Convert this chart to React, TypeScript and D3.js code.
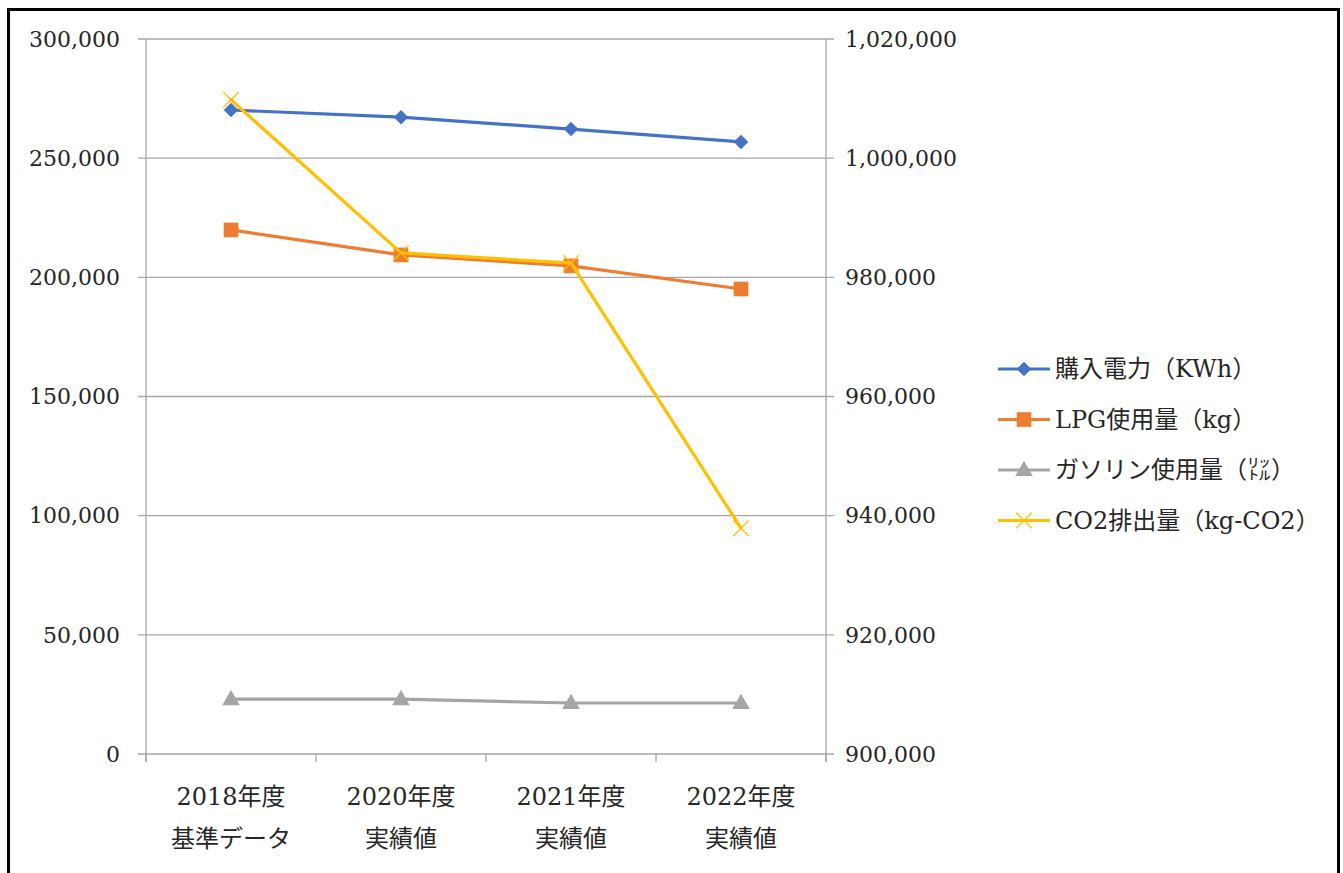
import React from 'react';
import * as d3 from 'd3';

const categories = ['2018年度|基準データ', '2020年度|実績値', '2021年度|実績値', '2022年度|実績値'];
const power = [270200, 267200, 262200, 256800];
const lpg = [219900, 209400, 204800, 195100];
const gasoline = [23000, 23000, 21400, 21400];
const co2 = [1009800, 984100, 982400, 937900];
const leftTicks = [0, 50000, 100000, 150000, 200000, 250000, 300000];
const rightTicks = [900000, 920000, 940000, 960000, 980000, 1000000, 1020000];
const seriesNames = ['購入電力（KWh）', 'LPG使用量（kg）', 'ガソリン使用量（㍑）', 'CO2排出量（kg-CO2）'];

const FONT = '"DejaVu Serif", "Noto Sans CJK JP", serif';
const GRID = '#a6a6a6';

const plot = { left: 146, right: 826, top: 39, bottom: 754 };

const x = d3.scaleBand<string>().domain(categories).range([plot.left, plot.right]);
const yL = d3.scaleLinear().domain([0, 300000]).range([plot.bottom, plot.top]);
const yR = d3.scaleLinear().domain([900000, 1020000]).range([plot.bottom, plot.top]);
const fmt = d3.format(',');
const cx = (c: string) => (x(c) as number) + x.bandwidth() / 2;

type Series = {
  name: string;
  values: number[];
  color: string;
  scale: d3.ScaleLinear<number, number>;
  marker: 'diamond' | 'square' | 'triangle' | 'x';
};

const series: Series[] = [
  { name: seriesNames[0], values: power, color: '#4472C4', scale: yL, marker: 'diamond' },
  { name: seriesNames[1], values: lpg, color: '#ED7D31', scale: yL, marker: 'square' },
  { name: seriesNames[2], values: gasoline, color: '#A5A5A5', scale: yL, marker: 'triangle' },
  { name: seriesNames[3], values: co2, color: '#FFC000', scale: yR, marker: 'x' },
];

const Marker: React.FC<{ kind: Series['marker']; color: string; px: number; py: number }> = ({ kind, color, px, py }) => {
  if (kind === 'diamond') {
    const p = d3.symbol(d3.symbolSquare, 105)();
    return <path d={p || ''} transform={`translate(${px},${py}) rotate(45)`} fill={color} />;
  }
  if (kind === 'square') {
    const p = d3.symbol(d3.symbolSquare, 215)();
    return <path d={p || ''} transform={`translate(${px},${py})`} fill={color} />;
  }
  if (kind === 'triangle') {
    const p = d3.symbol(d3.symbolTriangle, 135)();
    return <path d={p || ''} transform={`translate(${px},${py + 1})`} fill={color} />;
  }
  const p = d3.symbol(d3.symbolX, 160)();
  return <path d={p || ''} transform={`translate(${px},${py})`} fill="none" stroke={color} strokeWidth={1.3} />;
};

export default function App() {
  const line = (s: Series) =>
    d3.line<number>()
      .x((_, i) => cx(categories[i]))
      .y((v) => s.scale(v))(s.values) || '';

  const boundaries = [...categories.map((c) => x(c) as number), plot.right];

  return (
    <div style={{ position: 'absolute', left: 0, top: 0 }}>
      <svg width={1343} height={873} style={{ display: 'block', background: '#fff' }} fontFamily={FONT}>
        <rect x={0} y={0} width={1343} height={873} fill="#fff" />
        <rect x={8.5} y={9.5} width={1330} height={900} fill="none" stroke="#000" strokeWidth={3} />

        {/* horizontal grid + left ticks */}
        {leftTicks.map((t) => (
          <g key={t}>
            <line x1={plot.left - 8} x2={plot.right + 8} y1={yL(t)} y2={yL(t)} stroke={GRID} strokeWidth={1.3} />
            <text x={120} y={yL(t)} dy="0.35em" textAnchor="end" fontSize={22} fill="#262626">
              {fmt(t)}
            </text>
          </g>
        ))}
        {rightTicks.map((t) => (
          <text key={t} x={845} y={yR(t)} dy="0.35em" textAnchor="start" fontSize={22} fill="#262626">
            {fmt(t)}
          </text>
        ))}

        {/* axis lines */}
        <line x1={plot.left} x2={plot.left} y1={plot.top} y2={plot.bottom + 8} stroke={GRID} strokeWidth={1.3} />
        <line x1={plot.right} x2={plot.right} y1={plot.top} y2={plot.bottom + 8} stroke={GRID} strokeWidth={1.3} />
        {boundaries.map((b) => (
          <line key={b} x1={b} x2={b} y1={plot.bottom} y2={plot.bottom + 8} stroke={GRID} strokeWidth={1.3} />
        ))}

        {/* category labels */}
        {categories.map((c) => {
          const [l1, l2] = c.split('|');
          return (
            <text key={c} x={cx(c)} textAnchor="middle" fontSize={24} fill="#262626">
              <tspan x={cx(c)} y={805}>{l1}</tspan>
              <tspan x={cx(c)} y={847}>{l2}</tspan>
            </text>
          );
        })}

        {/* series */}
        {series.map((s) => (
          <g key={s.name}>
            <path d={line(s)} fill="none" stroke={s.color} strokeWidth={3.2} strokeLinejoin="round" strokeLinecap="round" />
            {s.values.map((v, i) => (
              <Marker key={i} kind={s.marker} color={s.color} px={cx(categories[i])} py={s.scale(v)} />
            ))}
          </g>
        ))}

        {/* legend */}
        {series.map((s, i) => {
          const ly = 369 + i * 50.5;
          return (
            <g key={s.name}>
              <line x1={998} x2={1050} y1={ly} y2={ly} stroke={s.color} strokeWidth={3.2} />
              <Marker kind={s.marker} color={s.color} px={1024} py={ly} />
              <text x={1055} y={ly} dy="0.35em" fontSize={24} fill="#262626">
                {s.name}
              </text>
            </g>
          );
        })}
      </svg>
    </div>
  );
}
